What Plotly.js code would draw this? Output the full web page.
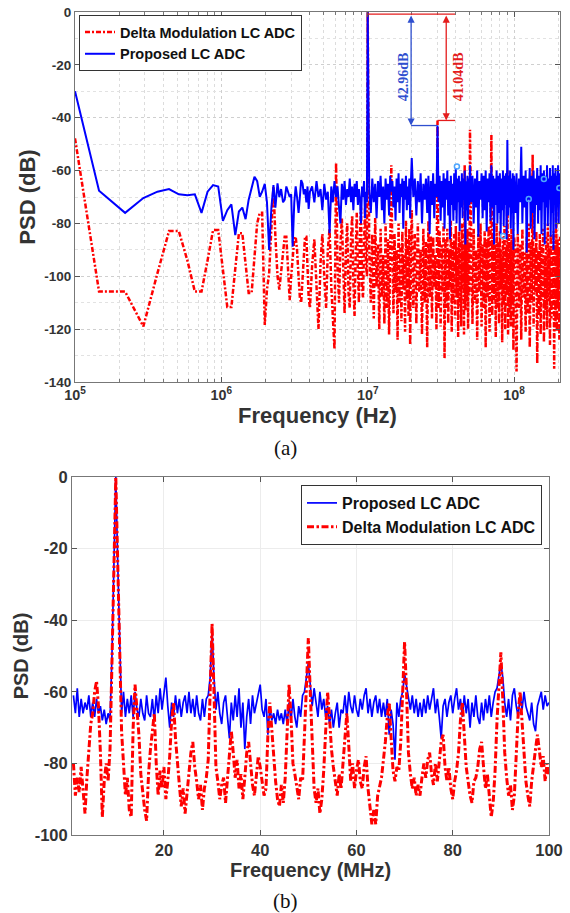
<!DOCTYPE html>
<html><head><meta charset="utf-8">
<script src="https://cdn.plot.ly/plotly-3.0.1.min.js"></script>
<style>html,body{margin:0;padding:0;background:#fff}</style>
</head><body><div id="chart" style="width:570px;height:913px"></div>
<script>
const nameDelta = 'Delta Modulation LC ADC';
const nameProposed = 'Proposed LC ADC';

// ---------- (a) log-frequency PSD, frequencies in MHz ----------
const freqA_MHz = [
0.1,0.146,0.22,0.293,0.366,0.439,0.512,0.586,0.659,0.732,0.805,0.878,0.952,1.025,1.098,1.171,1.245,1.318,1.391,1.464,1.537,1.61,1.684,1.757,1.83,1.9,1.98,2.05,2.12,2.2,2.27,2.34,2.42,2.49,
2.56,2.64,2.71,2.78,2.86,2.93,3.0,3.07,3.15,3.22,3.29,3.37,3.44,3.51,3.59,3.66,3.73,3.81,3.88,3.95,4.03,
4.17,4.32,4.47,4.61,4.76,4.9,5.05,5.2,5.34,5.49,5.64,5.78,5.93,6.08,6.22,6.37,6.51,6.66,6.81,6.95,7.1,7.25,7.39,7.54,7.69,7.83,7.98,8.13,8.27,8.42,8.57,8.71,8.86,9.0,9.15,9.3,9.44,9.59,9.74,9.88,10.0,
10.25,10.5,10.75,11,11.25,11.5,11.75,12,12.25,12.5,12.75,13,13.25,13.5,13.75,14,14.25,14.5,14.75,15,15.25,15.5,15.75,16,16.25,16.5,16.75,17,17.25,17.5,17.75,18,18.25,18.5,18.75,19,19.25,19.5,19.75,20,
20.5,21,21.5,22,22.5,23,23.5,24,24.5,25,25.5,26,26.5,27,27.5,28,28.5,29,29.5,30,30.5,31,31.5,32,32.5,33,33.5,34,34.5,35,35.5,36,36.5,37,37.5,38,38.5,39,39.5,40,40.5,41,41.5,42,42.5,43,43.5,44,44.5,45,45.5,46,46.5,47,47.5,48,48.5,49,49.5,50,
51,52,53,54,55,56,57,58,59,60,61,62,63,64,65,66,67,68,69,70,71,72,73,74,75,76,77,78,79,80,81,82,83,84,85,86,87,88,89,90,91,92,93,94,95,96,97,98,99,100,
102,104,106,108,110,112,114,116,118,120,122,124,126,128,130,132,134,136,138,140,142,144,146,148,150,152,154,156,158,160,162,164,166,168,170,172,174,176,178,180,182,184,186,188,190,192,194,196,198,200,202,204,206];

const blueA = [
-30,-67.6,-76,-70.4,-68,-67,-69,-69.3,-69,-76,-68,-65.5,-66,-79,-75,-72.8,-84.4,-75.5,-74,-78.4,-71,-66,-62.3,-64,-69.9,-68,-65,-72,-90,-73.7,-65.5,-74,-64.8,-70,
-67,-72,-71,-66,-68,-70,-69,-88.8,-72,-66,-70,-76,-70,-63.6,-65,-69,-67,-72,-66,-74.5,-68,
-66,-72,-64,-70,-67,-75,-65,-71,-68,-83.7,-66,-72,-64,-70,-66,-74,-80,-65,-71,-64,-73,-67,-70,-63,-72,-66,-75,-65,-70,-64,-73,-67,-71,-80,-66,-70,-64,-78,-68,-72,0,
-68,-76,-63,-72,-65,-78,-64,-70,-62,-75,-66,-80,-63,-71,-65,-77,-62,-68,-64,-74,-66,-79,-63,-72,-61,-76,-65,-70,-63,-82,-64,-71,-62,-75,-66,-73,-63,-78,-64,-55.3,
-70,-63,-77,-64,-72,-61,-80,-65,-71,-63,-76,-62,-84,-64,-73,-61,-78,-65,-70,-42.96,-72,-62,-79,-64,-74,-61,-82,-63,-71,-60,-77,-64,-86,-62,-73,-65,-79,-61,-75,-59,-80,-63,-72,-62,-83,-64,-74,-61,-78,-63,-71,-60,-88,-64,-75,-62,-79,-63,-73,-58,
-72,-62,-80,-63,-74,-60,-85,-64,-71,-61,-78,-62,-75,-60,-83,-63,-72,-61,-79,-58,-74,-62,-88,-63,-73,-60,-80,-62,-76,-61,-84,-63,-75,-60,-81,-62,-73,-61,-86,-48.4,-77,-62,-74,-60,-82,-63,-76,-61,-90,-62,
-76,-61,-84,-63,-72,-51,-80,-62,-74,-60,-91,-63,-71,-59,-82,-62,-76,-60,-86,-63,-73,-59,-80,-62,-75,-58,-84,-61,-72,-60,-88,-62,-74,-58,-81,-63,-71,-59,-85,-62,-76,-58,-90,-61,-73,-59,-82,-62,-74,-58,-80,-61,-72];

const redA = [
-47.8,-105.8,-105.8,-119,-98.8,-82.9,-82.9,-94,-105.8,-105.8,-94,-82.5,-82.5,-97,-111.6,-111.6,-97,-83.7,-83.7,-95,-106.3,-106.3,-92,-80,-76,-76,-118.4,-105,-99,-80,-66,-85,-100,-105,
-98,-90,-85,-85,-98,-109,-100,-92,-86,-85,-90,-100,-108,-110,-100,-90,-85,-85,-95,-108,-112,
-96,-86,-105,-120,-95,-84,-100,-112,-90,-82,-104,-115,-127.6,-57,-96,-110,-88,-78,-100,-114,-90,-80,-106,-112,-86,-77,-102,-115,-92,-76,-98,-110,-84,-74,-104,-108,-88,-74,-96,-100,0,
-90,-110,-84,-116,-78,-104,-88,-120,-82,-108,-92,-118,-80,-112,-86,-122,-76,-58,-94,-114,-84,-106,-90,-124,-80,-110,-88,-117,-83,-105,-92,-121,-79,-109,-86,-115,-82,-126,-90,-75,
-112,-84,-118,-80,-106,-90,-122,-82,-110,-87,-127,-79,-108,-85,-116,-85,-104,-92,-120,-41.04,-112,-83,-119,-88,-106,-80,-131,-86,-112,-82,-118,-90,-104,-79,-121,-87,-110,-84,-116,-81,-108,-89,-123,-83,-111,-86,-119,-80,-105,-88,-122,-58,-113,-85,-109,-82,-120,-87,-107,-44.6,
-86,-118,-82,-110,-90,-124,-84,-106,-80,-119,-88,-112,-83,-127,-86,-108,-81,-121,-90,-46.5,-115,-84,-109,-88,-123,-80,-112,-87,-118,-83,-105,-90,-125,-85,-111,-81,-120,-89,-107,-60,-122,-84,-113,-87,-119,-82,-110,-88,-128,-85,
-90,-136,-84,-112,-88,-124,-82,-108,-91,-121,-85,-114,-80,-127,-87,-110,-54,-119,-89,-106,-83,-133,-90,-115,-84,-122,-88,-109,-82,-125,-92,-113,-85,-120,-80,-108,-89,-126,-84,-116,-91,-111,-83,-135,-88,-118,-63,-121,-86,-112,-90,-124,-85];

// data-cursor circles in (a)
const cursorA_MHz = [40.7, 84, 126, 160, 204];
const cursorA_dB = [-58.5, -84.8, -70.8, -63.2, -66.6];

// measured harmonic distances in (a)
const fundamentalMHz = 10;
const harmonicBlue_dB = -42.96;
const harmonicRed_dB = -41.04;

// tick values / labels
const ticksA_dB = [0, -20, -40, -60, -80, -100, -120, -140];
const ticksB_dB = [0, -20, -40, -60, -80, -100];
const ticksB_MHz = [20, 40, 60, 80, 100];

// ---------- (b) linear-frequency PSD, MHz ----------
const freqB_MHz = [
1.2,1.6,2,2.4,2.8,3.2,3.6,4,4.4,4.8,
5.2,5.6,6,6.4,6.8,7.2,7.6,8,8.4,8.8,
9.2,9.6,10,10.4,10.8,11.2,11.6,12,12.4,12.8,
13.2,13.6,14,14.4,14.8,15.2,15.6,16,16.4,16.8,
17.2,17.6,18,18.4,18.8,19.2,19.6,20,20.4,20.8,
21.2,21.6,22,22.4,22.8,23.2,23.6,24,24.4,24.8,
25.2,25.6,26,26.4,26.8,27.2,27.6,28,28.4,28.8,
29.2,29.6,30,30.4,30.8,31.2,31.6,32,32.4,32.8,
33.2,33.6,34,34.4,34.8,35.2,35.6,36,36.4,36.8,
37.2,37.6,38,38.4,38.8,39.2,39.6,40,40.4,40.8,
41.2,41.6,42,42.4,42.8,43.2,43.6,44,44.4,44.8,
45.2,45.6,46,46.4,46.8,47.2,47.6,48,48.4,48.8,
49.2,49.6,50,50.4,50.8,51.2,51.6,52,52.4,52.8,
53.2,53.6,54,54.4,54.8,55.2,55.6,56,56.4,56.8,
57.2,57.6,58,58.4,58.8,59.2,59.6,60,60.4,60.8,
61.2,61.6,62,62.4,62.8,63.2,63.6,64,64.4,64.8,
65.2,65.6,66,66.4,66.8,67.2,67.6,68,68.4,68.8,
69.2,69.6,70,70.4,70.8,71.2,71.6,72,72.4,72.8,
73.2,73.6,74,74.4,74.8,75.2,75.6,76,76.4,76.8,
77.2,77.6,78,78.4,78.8,79.2,79.6,80,80.4,80.8,
81.2,81.6,82,82.4,82.8,83.2,83.6,84,84.4,84.8,
85.2,85.6,86,86.4,86.8,87.2,87.6,88,88.4,88.8,
89.2,89.6,90,90.4,90.8,91.2,91.6,92,92.4,92.8,
93.2,93.6,94,94.4,94.8,95.2,95.6,96,96.4,96.8,
97.2,97.6,98,98.4,98.8,99.2,99.6,100];

const blueB = [
-61,-66,-59,-67,-62,-66,-63,-65,-61,-67,
-63,-67,-62,-66,-64,-68,-65,-69,-66,-68,
-50,-24,0,-24,-50,-66,-60,-67,-62,-66,
-61,-67,-60,-65,-67,-62,-66,-68,-61,-66,
-67,-62,-68,-61,-66,-59,-65,-61,-56,-64,
-70,-63,-67,-61,-66,-62,-67,-63,-61,-66,
-60,-66,-62,-67,-61,-66,-68,-62,-67,-62,
-61,-56,-43,-56,-65,-60,-66,-69,-63,-61,
-67,-73,-63,-68,-61,-67,-59,-70,-63,-76,
-67,-62,-69,-61,-66,-63,-60,-58,-65,-67,
-62,-72,-64,-68,-66,-69,-65,-68,-66,-69,
-65,-69,-63,-68,-62,-67,-70,-64,-67,-61,
-60,-56,-52,-58,-64,-59,-63,-67,-60,-65,
-62,-67,-64,-69,-65,-70,-66,-63,-70,-65,
-66,-61,-67,-60,-64,-66,-61,-65,-67,-62,
-65,-61,-59,-66,-62,-67,-63,-61,-66,-62,
-67,-63,-67,-62,-72,-65,-69,-79,-63,-67,
-62,-60,-55,-58,-62,-65,-61,-66,-62,-67,
-63,-67,-62,-66,-61,-65,-62,-59,-66,-62,
-67,-73,-64,-62,-67,-63,-61,-66,-62,-59,
-65,-62,-67,-61,-66,-62,-70,-63,-67,-61,
-67,-69,-63,-68,-62,-66,-61,-67,-63,-60,
-59,-56,-52,-56,-63,-67,-62,-68,-61,-59,
-64,-67,-61,-65,-60,-64,-66,-68,-63,-69,
-71,-64,-62,-60,-65,-61,-64,-63];

const redB = [
-80,-89,-84,-88,-81,-89,-94,-84,-77,-69,
-66,-60,-57,-64,-77,-95,-85,-80,-85,-76,
-52,-24,0,-24,-52,-71,-80,-89,-84,-93,
-95,-70,-58,-65,-72,-83,-89,-93,-96,-83,
-76,-70,-66,-80,-89,-82,-87,-81,-90,-85,
-78,-68,-63,-73,-81,-86,-92,-87,-94,-88,
-84,-77,-74,-81,-85,-90,-86,-93,-87,-84,
-79,-60,-41,-60,-81,-85,-90,-86,-84,-91,
-85,-77,-71,-77,-84,-79,-87,-83,-90,-84,
-77,-74,-80,-86,-89,-83,-78,-81,-85,-89,
-87,-72,-63,-71,-78,-85,-90,-92,-86,-91,
-84,-70,-58,-67,-80,-83,-87,-90,-84,-85,
-72,-58,-45,-60,-75,-87,-91,-87,-94,-90,
-82,-70,-60,-67,-76,-81,-85,-89,-83,-87,
-80,-72,-66,-75,-85,-80,-87,-82,-79,-85,
-87,-81,-78,-87,-92,-97,-93,-97,-89,-86,
-84,-79,-74,-67,-63,-73,-82,-85,-81,-82,
-74,-60,-46,-60,-77,-83,-87,-84,-89,-86,
-89,-84,-80,-84,-79,-77,-83,-86,-80,-85,
-79,-74,-72,-81,-85,-81,-87,-90,-85,-82,
-77,-68,-63,-73,-81,-85,-89,-91,-85,-84,
-81,-76,-74,-81,-87,-83,-90,-95,-91,-82,
-68,-60,-49,-62,-77,-84,-89,-86,-93,-89,
-77,-66,-60,-69,-79,-85,-89,-92,-85,-80,
-76,-72,-76,-81,-78,-85,-80,-83];

// ---------- drawing ----------
const MHz = v => v * 1e6;
const RED = '#ff0000', BLUE = '#0000ff';
const SANS = 'Liberation Sans, Arial, sans-serif';
const SERIF = 'Liberation Serif, Times New Roman, serif';

const traces = [
  {x: freqA_MHz.map(MHz), y: redA, type: 'scatter', mode: 'lines', name: nameDelta,
   line: {color: RED, width: 2.5, dash: '5px,2px,2px,2px'}, xaxis: 'x', yaxis: 'y', legend: 'legend'},
  {x: freqA_MHz.map(MHz), y: blueA, type: 'scatter', mode: 'lines', name: nameProposed,
   line: {color: BLUE, width: 2}, xaxis: 'x', yaxis: 'y', legend: 'legend'},
  {x: cursorA_MHz.map(MHz), y: cursorA_dB, type: 'scatter', mode: 'markers', showlegend: false,
   marker: {symbol: 'circle-open', size: 5, color: '#4da6ff', line: {width: 1.5}}, xaxis: 'x', yaxis: 'y'},
  {x: freqB_MHz, y: blueB, type: 'scatter', mode: 'lines', name: nameProposed,
   line: {color: BLUE, width: 1.7}, xaxis: 'x2', yaxis: 'y2', legend: 'legend2'},
  {x: freqB_MHz, y: redB, type: 'scatter', mode: 'lines', name: nameDelta,
   line: {color: RED, width: 3, dash: '7px,2.5px,2.5px,2.5px'}, xaxis: 'x2', yaxis: 'y2', legend: 'legend2'}
];

const W = 570, H = 913;
const axisCommon = {ticks: 'inside', ticklen: 5, tickcolor: '#555', mirror: 'ticks', showline: true,
  linecolor: '#777', linewidth: 1, zeroline: false, automargin: false};

const fund = MHz(fundamentalMHz), h3 = 3 * fund;
const arrowBlueX = 1.98e7, arrowRedX = 3.44e7, lineEndX = 3.95e7, topY = -0.8;
const blueAnn = '#2f4fcf', redAnn = '#e41c1c';

const layout = {
  width: W, height: H, margin: {l: 0, r: 0, t: 0, b: 0},
  paper_bgcolor: '#fff', plot_bgcolor: '#fff', showlegend: true,
  xaxis: Object.assign({}, axisCommon, {
    type: 'log', range: [5, 8.314], domain: [75 / W, 560 / W], anchor: 'y',
    dtick: 1, exponentformat: 'power',
    showgrid: true, gridcolor: '#cfcfcf', griddash: 'dot', gridwidth: 1,
    minor: {dtick: 'D1', ticks: 'inside', ticklen: 3, tickcolor: '#777', showgrid: true, gridcolor: '#dcdcdc', griddash: 'dot'},
    tickfont: {family: SANS, size: 11.5, weight: 'bold', color: '#333'},
    title: {text: 'Frequency (Hz)', font: {family: SANS, size: 22, weight: 'bold', color: '#333'}, standoff: 4}
  }),
  yaxis: Object.assign({}, axisCommon, {
    range: [-140, 0], tickmode: 'array', tickvals: ticksA_dB, ticktext: ticksA_dB.map(String),
    domain: [1 - 382 / H, 1 - 12 / H], anchor: 'x',
    showgrid: true, gridcolor: '#cfcfcf', griddash: 'dot',
    minor: {dtick: 10, showgrid: true, gridcolor: '#e2e2e2', griddash: 'dot'},
    tickfont: {family: SANS, size: 13.5, weight: 'bold', color: '#333'},
    title: {text: 'PSD (dB)', font: {family: SANS, size: 22, weight: 'bold', color: '#333'}, standoff: 2}
  }),
  xaxis2: Object.assign({}, axisCommon, {
    range: [0.9, 100], tickmode: 'array', tickvals: ticksB_MHz, ticktext: ticksB_MHz.map(String),
    domain: [72 / W, 549 / W], anchor: 'y2',
    showgrid: true, gridcolor: '#ececec',
    tickfont: {family: SANS, size: 16.5, weight: 'bold', color: '#333'},
    title: {text: 'Frequency (MHz)', font: {family: SANS, size: 20, weight: 'bold', color: '#333'}, standoff: 4}
  }),
  yaxis2: Object.assign({}, axisCommon, {
    range: [-100, 0], tickmode: 'array', tickvals: ticksB_dB, ticktext: ticksB_dB.map(String),
    domain: [1 - 835 / H, 1 - 477 / H], anchor: 'x2',
    showgrid: true, gridcolor: '#ececec',
    tickfont: {family: SANS, size: 16.5, weight: 'bold', color: '#333'},
    title: {text: 'PSD (dB)', font: {family: SANS, size: 20, weight: 'bold', color: '#333'}, standoff: 0}
  }),
  legend: {x: 79 / W, y: 1 - 15 / H, xanchor: 'left', yanchor: 'top', bgcolor: '#fff',
    bordercolor: '#333', borderwidth: 1, tracegroupgap: 0, itemwidth: 30,
    font: {family: SANS, size: 14.5, weight: 'bold', color: '#111'}},
  legend2: {x: 301 / W, y: 1 - 485 / H, xanchor: 'left', yanchor: 'top', bgcolor: '#fff',
    bordercolor: '#333', borderwidth: 1, tracegroupgap: 0, itemwidth: 30,
    font: {family: SANS, size: 16, weight: 'bold', color: '#111'}},
  shapes: [
    {type: 'line', xref: 'x', yref: 'y', x0: fund, x1: lineEndX, y0: topY, y1: topY, line: {color: redAnn, width: 1.3}},
    {type: 'line', xref: 'x', yref: 'y', x0: arrowBlueX, x1: h3, y0: harmonicBlue_dB, y1: harmonicBlue_dB, line: {color: blueAnn, width: 1.3}},
    {type: 'line', xref: 'x', yref: 'y', x0: h3, x1: lineEndX, y0: harmonicRed_dB, y1: harmonicRed_dB, line: {color: redAnn, width: 1.3}}
  ],
  annotations: [
    {xref: 'x', yref: 'y', x: Math.log10(arrowBlueX), y: harmonicBlue_dB, axref: 'x', ayref: 'y',
     ax: Math.log10(arrowBlueX), ay: topY, text: '', showarrow: true, arrowhead: 2, startarrowhead: 2,
     arrowside: 'end+start', arrowsize: 1.1, startarrowsize: 1.1, arrowwidth: 1.3, arrowcolor: blueAnn, standoff: 0, startstandoff: 0},
    {xref: 'x', yref: 'y', x: Math.log10(arrowRedX), y: harmonicRed_dB, axref: 'x', ayref: 'y',
     ax: Math.log10(arrowRedX), ay: topY, text: '', showarrow: true, arrowhead: 2, startarrowhead: 2,
     arrowside: 'end+start', arrowsize: 1.1, startarrowsize: 1.1, arrowwidth: 1.3, arrowcolor: redAnn, standoff: 0, startstandoff: 0},
    {xref: 'x', yref: 'y', x: Math.log10(1.75e7), y: -24.6, text: (-harmonicBlue_dB).toFixed(2) + 'dB',
     textangle: -90, showarrow: false, font: {family: SERIF, size: 14, weight: 'bold', color: blueAnn}},
    {xref: 'x', yref: 'y', x: Math.log10(4.15e7), y: -24.6, text: (-harmonicRed_dB).toFixed(2) + 'dB',
     textangle: -90, showarrow: false, font: {family: SERIF, size: 14, weight: 'bold', color: redAnn}},
    {xref: 'paper', yref: 'paper', x: 0.5, y: 1 - 448 / H, yanchor: 'middle', text: '(a)', showarrow: false,
     font: {family: SERIF, size: 21, color: '#111'}},
    {xref: 'paper', yref: 'paper', x: 0.5, y: 1 - 901 / H, yanchor: 'middle', text: '(b)', showarrow: false,
     font: {family: SERIF, size: 21, color: '#111'}}
  ]
};

Plotly.newPlot('chart', traces, layout, {staticPlot: true, displayModeBar: false});
</script></body></html>
